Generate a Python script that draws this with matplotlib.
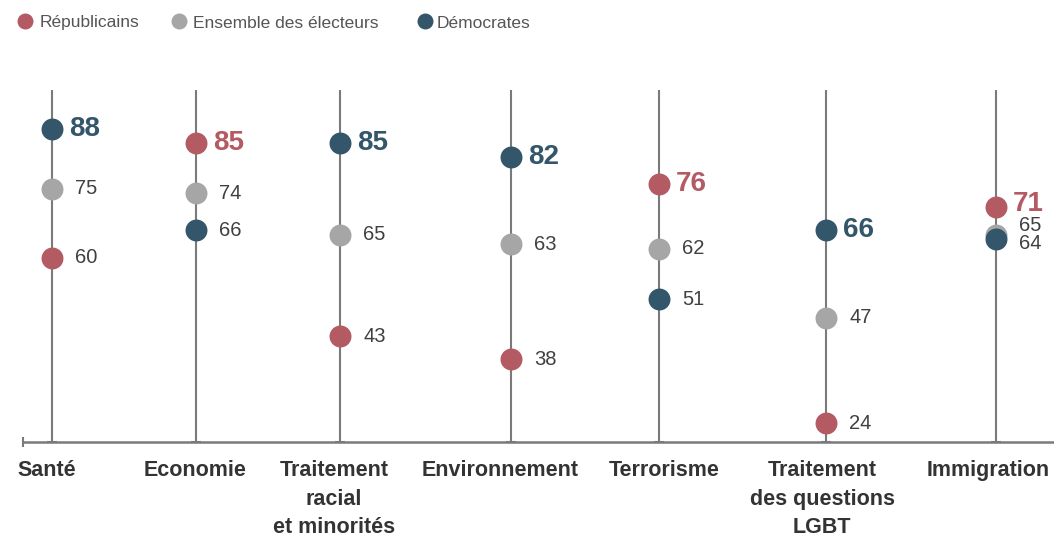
import matplotlib
matplotlib.use("Agg")
import matplotlib.pyplot as plt

categories = ["Santé", "Economie", "Traitement\nracial\net minorités", "Environnement",
              "Terrorisme", "Traitement\ndes questions\nLGBT", "Immigration"]
republicains = [60, 85, 43, 38, 76, 24, 71]
ensemble = [75, 74, 65, 63, 62, 47, 65]
democrates = [88, 66, 85, 82, 51, 66, 64]
series_names = ["Républicains", "Ensemble des électeurs", "Démocrates"]

# layout (pixel-like x positions of each category)
xpos = [52, 196, 340, 511, 659, 826, 996]
cat_label_dx = [-5, -1, -6, -11, 5, -4, -8]  # px nudges for category labels
colors = ["#b35a63", "#a6a6a7", "#34566a"]
label_dy = {(6, 0): 3, (6, 1): 9, (6, 2): -4}  # small vertical nudges for crowded labels (px)

W, H = 1054, 538
fig = plt.figure(figsize=(W / 100, H / 100), dpi=100)
ax = fig.add_axes([23 / W, (H - 442) / H, (W - 23) / W, (442 - 90) / H])
ax.set_xlim(23, 1054)
ymin, ymax = 19.96, 96.48
ax.set_ylim(ymin, ymax)
ax.axis("off")

line_col = "#7a7a7a"
for x in xpos:
    ax.plot([x, x], [ymin, ymax], color=line_col, lw=1.5, zorder=1, solid_capstyle="butt")
ax.plot([23, 1054], [ymin, ymin], color=line_col, lw=1.8, zorder=1, clip_on=False)
ax.plot([23], [ymin], marker="|", ms=7, mew=1.5, color=line_col, clip_on=False)
ax.plot(xpos, [ymin] * len(xpos), ls="none", marker="_", ms=7, mew=1.5, color=line_col, clip_on=False)

all_series = [republicains, ensemble, democrates]
for si, (vals, col) in enumerate(zip(all_series, colors)):
    ax.plot(xpos, vals, ls="none", marker="o", ms=15.8, color=col, mec="none", zorder=3)

for ci, x in enumerate(xpos):
    vals = [s[ci] for s in all_series]
    top = max(range(3), key=lambda k: vals[k])
    for si in range(3):
        v = vals[si]
        dy = label_dy.get((ci, si), 0)
        if si == top:
            ax.annotate(str(v), (x, v), xytext=(17 * 0.72, dy * 0.72), textcoords="offset points",
                        ha="left", va="center", fontsize=20, fontweight="bold",
                        color=colors[si], family="Liberation Sans", zorder=4)
        else:
            ax.annotate(str(v), (x, v), xytext=(23 * 0.72, dy * 0.72), textcoords="offset points",
                        ha="left", va="center", fontsize=14.5,
                        color="#404040", family="Liberation Sans", zorder=4)

for ci, x in enumerate(xpos):
    ax.annotate(categories[ci], (x, ymin), xytext=(cat_label_dx[ci] * 0.72, -18 * 0.72),
                textcoords="offset points",
                ha="center", va="top", fontsize=15.5, fontweight="bold", color="#333333",
                family="Liberation Sans", linespacing=1.47, annotation_clip=False)

# legend
lax = fig.add_axes([0, 0, 1, 1])
lax.set_xlim(0, W)
lax.set_ylim(H, 0)
lax.axis("off")
leg_marker_x = [25, 179, 425]
leg_text_x = [40, 193, 437]
for name, col, mx, tx in zip(series_names, colors, leg_marker_x, leg_text_x):
    lax.plot([mx], [21], marker="o", ms=11.5, color=col, mec="none")
    lax.text(tx, 23, name, ha="left", va="center", fontsize=12.5, color="#555555",
             family="Liberation Sans")

fig.savefig("out.png", dpi=100)
